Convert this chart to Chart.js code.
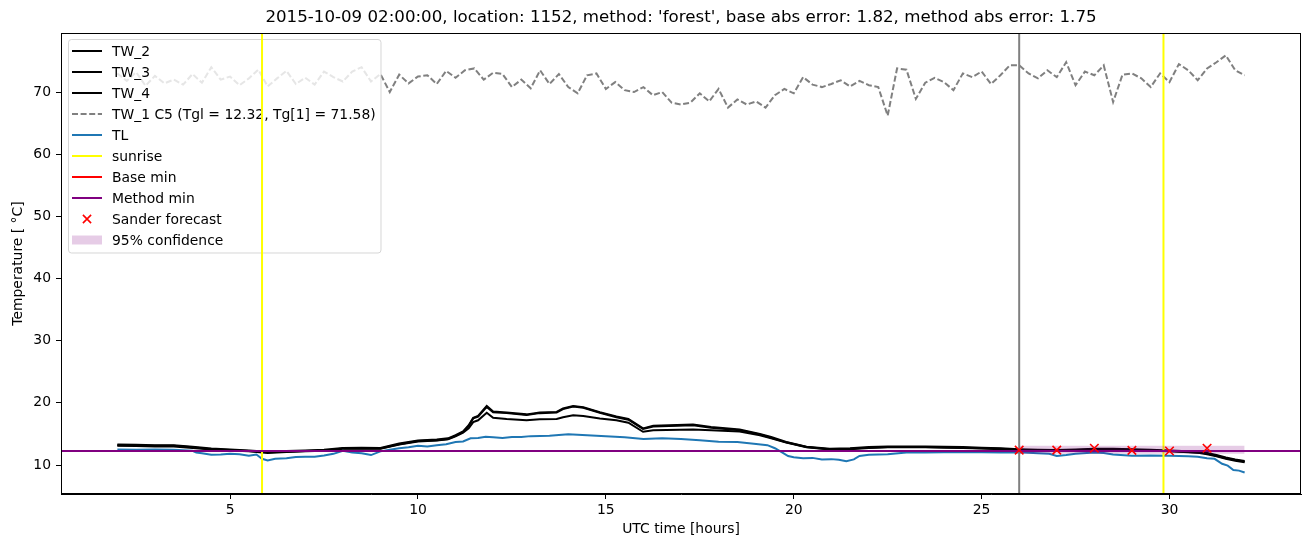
<!DOCTYPE html>
<html><head><meta charset="utf-8">
<script src="https://cdn.jsdelivr.net/npm/chart.js@4"></script>
<style>html,body{margin:0;padding:0;background:#fff}canvas{display:block}</style>
</head><body>
<canvas id="c" width="1310" height="547"></canvas>
<script>
// ---------- data ----------
const titleText = "2015-10-09 02:00:00, location: 1152, method: 'forest', base abs error: 1.82, method abs error: 1.75";
const xTicks = [5, 10, 15, 20, 25, 30];
const yTicks = [10, 20, 30, 40, 50, 60, 70];
const xRange = [0.5, 33.5];
const yRange = [5.34, 79.5];

const tw1Start = 2, tw1Step = 0.25;
const tw1Values = [
 73.0,71.8,73.2,71.0, 72.6,71.4,72.0,71.2, 72.9,71.5,74.0,72.0, 72.5,71.1,72.2,73.6,
 70.9,72.2,73.4,71.3, 72.3,71.2,73.3,72.4, 71.7,73.3,74.0,71.7, 72.9,70.0,72.8,71.4,
 72.5,72.7,71.3,73.4, 72.3,73.5,73.8,72.0, 73.1,72.9,70.8,72.0, 70.6,73.5,71.3,72.9,
 70.8,69.8,72.7,73.0, 70.5,71.6,70.3,70.0, 70.8,69.5,70.0,68.3, 68.0,68.3,69.8,68.5,
 70.5,67.5,68.8,68.0, 68.5,67.5,69.5,70.5, 69.8,72.4,71.2,70.8, 71.3,71.9,70.9,71.8,
 71.1,70.8,66.2,73.8, 73.6,68.9,71.5,72.3, 71.6,70.3,73.0,72.4, 73.3,71.3,72.7,74.3,
 74.3,73.0,72.2,73.5, 72.4,74.8,71.1,73.3, 72.7,74.3,68.4,72.8, 73.0,72.2,70.8,73.0,
 71.6,74.5,73.5,71.9, 73.8,74.8,75.9,73.5, 72.7];

const twTimes = [2,2.5,3,3.5,4,4.5,5,5.5,6,6.5,7,7.5,8,8.5,9,9.5,10,10.5,10.8,11,
 11.2,11.35,11.47,11.6,11.83,12,12.36,12.89,13.24,13.69,13.86,14.13,14.4,14.84,15.28,15.6,15.99,16.26,17.32,17.8,
 18.56,19.1,19.4,19.8,20.34,20.96,21.5,22,22.5,23,23.5,24,24.5,25,25.5,26,26.5,27,27.5,28,
 28.5,29,29.5,30,30.5,30.8,31,31.25,31.5,31.75,32];
const tw2Values = [13.3,13.25,13.2,13.2,12.95,12.65,12.5,12.35,12.15,12.25,
 12.35,12.45,12.75,12.8,12.75,13.45,13.95,14.1,14.3,14.8,
 15.4,16.4,17.6,17.9,19.5,18.6,18.45,18.15,18.45,18.55,
 19.1,19.5,19.3,18.5,17.8,17.4,15.9,16.3,16.5,16.1,
 15.7,15.0,14.5,13.7,12.95,12.6,12.7,12.9,13.0,13.0,
 13.0,12.95,12.9,12.8,12.7,12.55,12.45,12.4,12.5,12.6,
 12.6,12.55,12.45,12.35,12.2,12.1,11.95,11.6,11.2,10.9,10.65];
const tw3Values = [13.1,13.05,13.0,13.0,12.75,12.5,12.35,12.2,11.95,12.1,
 12.2,12.3,12.6,12.65,12.6,13.3,13.8,13.95,14.15,14.6,
 15.2,15.9,16.9,17.2,18.4,17.6,17.4,17.2,17.35,17.4,
 17.7,18.0,17.9,17.5,17.2,16.8,15.35,15.6,15.7,15.6,
 15.4,14.8,14.3,13.6,12.85,12.5,12.55,12.75,12.85,12.85,
 12.85,12.8,12.75,12.65,12.55,12.4,12.3,12.25,12.35,12.45,
 12.45,12.4,12.3,12.2,12.05,11.95,11.75,11.4,11.0,10.7,10.45];
const tw4Values = [13.2,13.15,13.1,13.1,12.85,12.55,12.4,12.25,12.05,12.15,
 12.25,12.35,12.65,12.7,12.65,13.35,13.85,14.0,14.2,14.7,
 15.3,16.3,17.5,17.8,19.35,18.5,18.35,18.05,18.35,18.45,
 19.0,19.4,19.2,18.4,17.7,17.3,15.8,16.2,16.4,16.0,
 15.6,14.9,14.4,13.65,12.9,12.55,12.6,12.8,12.9,12.9,
 12.9,12.85,12.8,12.7,12.6,12.45,12.35,12.3,12.4,12.5,
 12.5,12.45,12.35,12.25,12.1,12.0,11.85,11.5,11.1,10.8,10.55];

const tlTimes = [2,2.5,3,3.5,4,4.1,4.25,4.5,4.75,5,5.25,5.5,5.7,5.85,6,6.2,6.5,6.75,7,7.25,
 7.5,7.75,8,8.25,8.5,8.75,9,9.25,9.5,9.75,10,10.25,10.5,10.75,11,11.2,11.4,11.6,11.8,12,
 12.25,12.5,12.75,13,13.5,14,14.5,15,15.5,16,16.5,17,17.5,18,18.5,19,19.3,19.5,19.7,19.85,
 20,20.25,20.5,20.75,21,21.2,21.4,21.6,21.75,22,22.5,23,23.5,24,24.5,25,25.5,26,26.5,26.8,
 27,27.25,27.5,28,28.25,28.5,29,29.5,30,30.5,30.75,31,31.2,31.4,31.55,31.7,31.85,32];
const tlValues = [12.5,12.45,12.5,12.45,12.3,12.0,11.9,11.65,11.7,11.8,11.75,11.5,11.7,11.0,10.75,11.0,11.1,11.3,11.35,11.35,
 11.55,11.8,12.3,12.0,11.9,11.6,12.2,12.45,12.7,12.85,13.1,13.0,13.2,13.35,13.7,13.8,14.3,14.35,14.55,14.45,
 14.35,14.5,14.5,14.65,14.7,14.95,14.8,14.65,14.45,14.2,14.3,14.2,14.0,13.75,13.7,13.4,13.2,12.7,12.0,11.45,
 11.25,11.1,11.15,10.9,10.95,10.85,10.6,10.9,11.45,11.65,11.75,12.0,12.0,12.05,12.1,12.05,12.0,12.05,11.9,11.8,
 11.45,11.6,11.8,12.0,11.95,11.7,11.5,11.55,11.5,11.4,11.35,11.1,11.0,10.2,9.9,9.2,9.1,8.8];

const sunriseTimes = [5.85, 29.84];
const forecastStart = 26;
const baseMin = 12.25;
const methodMin = 12.25;
const sanderTimes = [26, 27, 28, 29, 30, 31];
const sanderValues = [12.4, 12.4, 12.7, 12.35, 12.25, 12.7];
const bandTimes = [26, 32];
const bandLow = [11.8, 11.8];
const bandHigh = [13.1, 13.1];

// ---------- build ----------
const FONT = '"DejaVu Sans", sans-serif';
Chart.defaults.font.family = FONT;
Chart.defaults.color = '#000';
const pts = (ts, vs) => ts.map((t, i) => ({x: t, y: vs[i]}));
const tw1Times = tw1Values.map((_, i) => tw1Start + i * tw1Step);
const vline = x => [{x: x, y: yRange[0]}, {x: x, y: yRange[1]}];
const hline = y => [{x: xRange[0], y: y}, {x: xRange[1], y: y}];
const LW = 2;

const datasets = [
  {label: 'TW_2', data: pts(twTimes, tw2Values), borderColor: '#000', borderWidth: LW, order: 9, leg: 'line'},
  {label: 'TW_3', data: pts(twTimes, tw3Values), borderColor: '#000', borderWidth: LW, order: 9, leg: 'line'},
  {label: 'TW_4', data: pts(twTimes, tw4Values), borderColor: '#000', borderWidth: LW, order: 9, leg: 'line'},
  {label: 'TW_1 C5 (Tgl = 12.32, Tg[1] = 71.58)', data: pts(tw1Times, tw1Values), borderColor: '#808080', borderWidth: LW, borderDash: [6, 2.6], order: 10, leg: 'line'},
  {label: 'TL', data: pts(tlTimes, tlValues), borderColor: '#1f77b4', borderWidth: LW, order: 8, leg: 'line', legendAfter: true},
  {label: 'sunrise', data: vline(sunriseTimes[0]), borderColor: '#ffff00', borderWidth: LW, order: 5, leg: 'line'},
  {label: 'sunrise (2)', data: vline(sunriseTimes[1]), borderColor: '#ffff00', borderWidth: LW, order: 5},
  {label: 'forecast time', data: vline(forecastStart), borderColor: '#808080', borderWidth: LW, order: 5},
  {label: 'Base min', data: hline(baseMin), borderColor: '#ff0000', borderWidth: LW, order: 4, leg: 'line'},
  {label: 'Method min', data: hline(methodMin), borderColor: '#800080', borderWidth: LW, order: 3, leg: 'line'},
  {label: 'Sander forecast', data: pts(sanderTimes, sanderValues), showLine: false, pointStyle: 'crossRot', pointRadius: 6, pointBorderColor: '#ff0000', pointBackgroundColor: '#ff0000', pointBorderWidth: 1.6, order: 1, leg: 'marker'},
  {label: 'band low', data: pts(bandTimes, bandLow), borderWidth: 0, borderColor: 'rgba(0,0,0,0)', order: 2},
  {label: '95% confidence', data: pts(bandTimes, bandHigh), borderWidth: 0, borderColor: 'rgba(0,0,0,0)', fill: '-1', backgroundColor: 'rgba(128,0,128,0.2)', order: 2, leg: 'patch'}
];

const legendPlugin = {
  id: 'mplLegend',
  afterDatasetDraw(chart, args) {
    const ds = chart.data.datasets[args.index];
    if (!ds.legendAfter) return;
    const ctx = chart.ctx;
    ctx.save();
    ctx.beginPath();
    ctx.roundRect(68.5, 39.5, 312.5, 213.5, 3);
    ctx.fillStyle = 'rgba(255,255,255,0.8)';
    ctx.fill();
    ctx.strokeStyle = 'rgba(204,204,204,0.8)';
    ctx.lineWidth = 1;
    ctx.stroke();
    const entries = chart.data.datasets.filter(d => d.leg);
    ctx.font = '13.9px ' + FONT;
    ctx.textBaseline = 'middle';
    entries.forEach((d, i) => {
      const y = 51 + i * 21;
      if (d.leg === 'line') {
        ctx.beginPath();
        ctx.setLineDash(d.borderDash || []);
        ctx.strokeStyle = d.borderColor;
        ctx.lineWidth = d.borderWidth;
        ctx.moveTo(72, y); ctx.lineTo(102, y);
        ctx.stroke();
        ctx.setLineDash([]);
      } else if (d.leg === 'marker') {
        ctx.beginPath();
        ctx.strokeStyle = d.pointBorderColor;
        ctx.lineWidth = d.pointBorderWidth;
        const r = 4.1;
        ctx.moveTo(87 - r, y - r); ctx.lineTo(87 + r, y + r);
        ctx.moveTo(87 - r, y + r); ctx.lineTo(87 + r, y - r);
        ctx.stroke();
      } else if (d.leg === 'patch') {
        ctx.fillStyle = d.backgroundColor;
        ctx.fillRect(72, y - 4.5, 30, 9);
      }
      ctx.fillStyle = '#000';
      ctx.fillText(d.label, 112, y + 1);
    });
    ctx.restore();
  }
};

const framePlugin = {
  id: 'frame',
  afterDraw(chart) {
    const a = chart.chartArea, ctx = chart.ctx;
    ctx.save();
    ctx.strokeStyle = '#000';
    ctx.lineWidth = 1;
    ctx.strokeRect(Math.round(a.left) + 0.5, Math.round(a.top) + 0.5, Math.round(a.right - a.left) - 1, Math.round(a.bottom - a.top) - 1);
    ctx.restore();
  }
};

const axisCommon = {
  grid: {display: true, drawOnChartArea: false, drawTicks: true, tickLength: 5, color: '#000', lineWidth: 1},
  border: {display: true, color: '#000', width: 1}
};

new Chart(document.getElementById('c'), {
  type: 'line',
  data: {datasets: datasets},
  options: {
    responsive: false,
    devicePixelRatio: 1,
    animation: false,
    events: [],
    elements: {point: {radius: 0}, line: {tension: 0}},
    layout: {padding: {left: 0, right: 9, top: 0, bottom: 0}},
    plugins: {
      legend: {display: false},
      tooltip: {enabled: false},
      title: {display: true, text: titleText, fullSize: false, color: '#000',
              font: {size: 16.67, weight: 'normal', family: FONT}, padding: {top: 8, bottom: 5}}
    },
    scales: {
      x: Object.assign({
        type: 'linear', min: xRange[0], max: xRange[1],
        afterBuildTicks: s => { s.ticks = xTicks.map(v => ({value: v})); },
        afterFit: s => { s.height = 53; },
        ticks: {color: '#000', font: {size: 13.9}, padding: 3, maxRotation: 0, callback: v => String(v)},
        title: {display: true, text: 'UTC time [hours]', color: '#000', font: {size: 13.9}, padding: {top: 0, bottom: 9.7}}
      }, axisCommon),
      y: Object.assign({
        type: 'linear', min: yRange[0], max: yRange[1],
        afterBuildTicks: s => { s.ticks = yTicks.map(v => ({value: v})); },
        afterFit: s => { s.width = 61; },
        ticks: {color: '#000', font: {size: 13.9}, padding: 5, callback: v => String(v)},
        title: {display: true, text: 'Temperature [ °C]', color: '#000', font: {size: 13.9}, padding: {top: 9.7, bottom: 0}}
      }, axisCommon)
    }
  },
  plugins: [legendPlugin, framePlugin]
});
</script>
</body></html>
